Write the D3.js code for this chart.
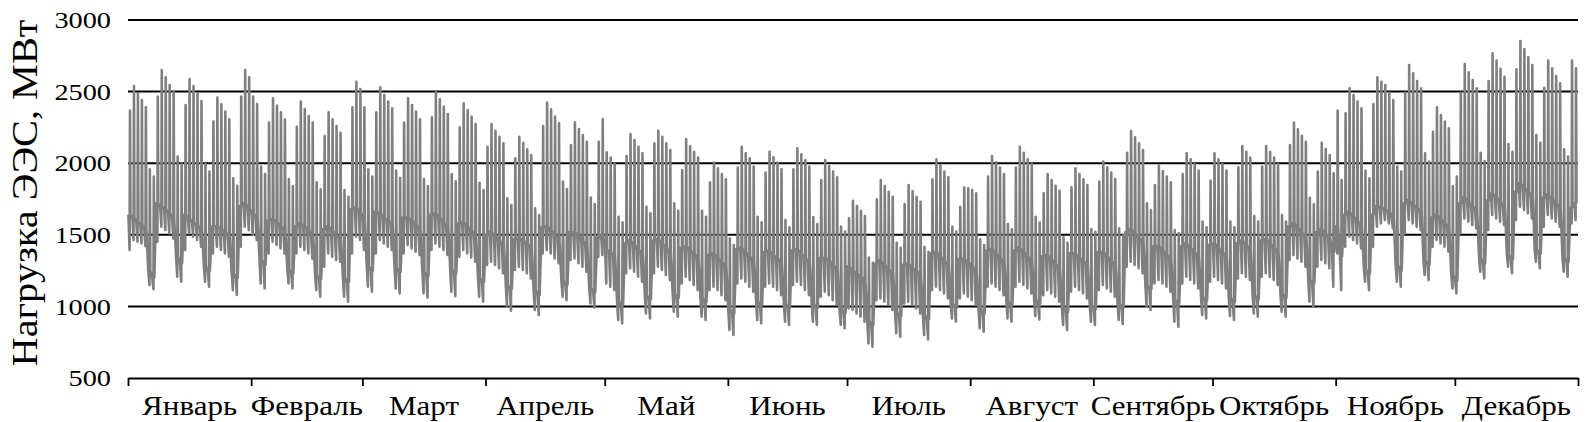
<!DOCTYPE html>
<html>
<head>
<meta charset="utf-8">
<script src="https://cdn.jsdelivr.net/npm/d3@7"></script>
<style>
  body { margin: 0; background: #fff; }
  text { font-family: "Liberation Serif", "Times New Roman", serif; fill: #000; }
</style>
</head>
<body>
<div id="chart"></div>
<script>
const months = ["Январь", "Февраль", "Март", "Апрель", "Май", "Июнь",
                "Июль", "Август", "Сентябрь", "Октябрь", "Ноябрь", "Декабрь"];
const monthDays = [31, 28, 31, 30, 31, 30, 31, 31, 30, 31, 30, 31];
const yTicks = [500, 1000, 1500, 2000, 2500, 3000];

// daily peak load, MW (week by week)
const dayMax = [
  2367, 2539, 2488, 2441, 2390, 1957, 1906,
  2465, 2651, 2600, 2546, 2500, 2046, 1994,
  2406, 2588, 2539, 2488, 2434, 1994, 1941,
  2290, 2458, 2411, 2360, 2306, 1894, 1843,
  2465, 2651, 2600, 2465, 2413, 1976, 1924,
  2283, 2453, 2402, 2355, 2306, 1890, 1841,
  2255, 2430, 2378, 2330, 2283, 1866, 1817,
  2190, 2355, 2306, 2260, 2213, 1813, 1766,
  2390, 2569, 2518, 2390, 1957, 1906,
  2355, 2530, 2476, 2430, 2383, 1948, 1897,
  2283, 2453, 2406, 2360, 2306, 1890, 1841,
  2320, 2495, 2446, 2395, 2343, 1924, 1873,
  2250, 2418, 2371, 2325, 2274, 1864, 1813,
  2115, 2274, 2227, 2185, 2139, 1755, 1708,
  2034, 2185, 2143, 2097, 2057, 1685, 1638,
  2260, 2423, 2376, 2325, 2278, 1871, 1820,
  2127, 2285, 2239, 2197, 2150, 1761, 1715,
  2150, 2309, 2076, 2039, 1994, 1626, 1587,
  2050, 2204, 2162, 2115, 2069, 1696, 1650,
  2139, 2227, 2185, 2139, 2092, 1720, 1668,
  1952, 2169, 2120, 2080, 2039, 1668, 1626,
  1866, 2004, 1964, 1924, 1887, 1475, 1429,
  1969, 2115, 2069, 2034, 1976, 1626, 1587,
  1934, 2080, 2041, 2004, 1957, 1603, 1552,
  1957, 2104, 2062, 2022, 1976, 1622, 1575,
  1883, 2022, 1980, 1941, 1901, 1557, 1522,
  1615, 1738, 1701, 1668, 1631, 1342, 1305,
  1748, 1883, 1841, 1801, 1766, 1445, 1410,
  1715, 1848, 1806, 1766, 1731, 1417, 1382,
  1887, 2027, 1983, 1941, 1901, 1557, 1522,
  1696, 1830, 1824, 1813, 1789, 1468, 1429,
  1906, 2050, 2006, 1969, 1924, 1575, 1538,
  1969, 2115, 2073, 2027, 1994, 1626, 1585,
  1789, 1924, 1883, 1843, 1808, 1482, 1445,
  1831, 1964, 1924, 1887, 1848, 1540, 1520,
  1871, 2011, 1971, 1934, 1890, 1545, 1498,
  2073, 2225, 2181, 2139, 2092, 1720, 1673,
  1848, 1983, 1945, 1906, 1866, 1533, 1510,
  1924, 2069, 2027, 1994, 1948, 1592, 1552,
  1878, 2069, 2027, 1994, 1948, 1592, 1552,
  1971, 2120, 2080, 2039, 1631, 1592,
  1976, 2120, 2080, 2039, 1994, 1638, 1592,
  2127, 2283, 2236, 2192, 2150, 1759, 1713,
  1941, 2143, 2099, 2057, 1929, 2367, 1883,
  2348, 2523, 2476, 2430, 2383, 1948, 1894,
  2413, 2600, 2569, 2546, 2492, 2441, 1976, 1941,
  2492, 2686, 2628, 2574, 2523, 2069, 2011,
  2220, 2390, 2337, 2290, 2243, 1841, 1906,
  2492, 2693, 2634, 2581, 2523, 2073, 2015,
  2574, 2767, 2716, 2660, 2604, 2134, 2080,
  2655, 2853, 2797, 2739, 2686, 2197, 2143,
  2527, 2716, 2662, 2609, 2558, 2097, 2046,
  2716, 2662
];

// daily minimum load, MW
const dayMin = [
  1394, 1464, 1452, 1440, 1420, 1150, 1120,
  1452, 1557, 1533, 1510, 1475, 1207, 1173,
  1394, 1510, 1487, 1464, 1417, 1173, 1138,
  1370, 1417, 1394, 1370, 1347, 1114, 1080,
  1417, 1557, 1533, 1498, 1464, 1161, 1126,
  1370, 1452, 1429, 1405, 1370, 1161, 1126,
  1370, 1417, 1394, 1370, 1335, 1114, 1068,
  1277, 1370, 1347, 1324, 1312, 1068, 1033,
  1370, 1487, 1464, 1394, 1138, 1103,
  1370, 1464, 1440, 1417, 1394, 1126, 1091,
  1370, 1429, 1405, 1382, 1359, 1091, 1063,
  1394, 1440, 1417, 1394, 1359, 1103, 1072,
  1347, 1394, 1370, 1342, 1312, 1068, 1033,
  1289, 1312, 1289, 1266, 1231, 998, 970,
  1254, 1277, 1254, 1231, 1196, 975, 940,
  1370, 1394, 1370, 1335, 1301, 1068, 1044,
  1324, 1335, 1301, 1277, 1242, 1021, 993,
  1347, 1359, 1161, 1138, 1114, 905, 882,
  1231, 1266, 1242, 1207, 1173, 951, 916,
  1231, 1277, 1254, 1219, 1184, 963, 928,
  1161, 1207, 1184, 1149, 1114, 928, 905,
  1114, 1138, 1114, 1079, 1044, 835, 800,
  1161, 1196, 1173, 1138, 1103, 905, 882,
  1138, 1161, 1138, 1114, 1079, 893, 870,
  1149, 1173, 1149, 1114, 1079, 893, 870,
  1068, 1103, 1079, 1044, 1010, 870, 847,
  986, 975, 951, 928, 893, 742, 719,
  1044, 1056, 1033, 1010, 975, 812, 788,
  1021, 1033, 1010, 986, 951, 800, 770,
  1114, 1138, 1114, 1091, 1056, 916, 893,
  1056, 1091, 1068, 1044, 1010, 847, 823,
  1138, 1161, 1138, 1114, 1079, 916, 893,
  1138, 1173, 1149, 1126, 1091, 933, 909,
  1079, 1114, 1091, 1068, 1033, 870, 835,
  1103, 1138, 1114, 1091, 1056, 893, 870,
  1114, 1149, 1126, 1103, 1068, 905, 877,
  1277, 1312, 1289, 1266, 1231, 998, 975,
  1161, 1184, 1161, 1138, 1103, 893, 858,
  1161, 1207, 1184, 1161, 1126, 940, 916,
  1173, 1207, 1184, 1161, 1126, 933, 905,
  1196, 1231, 1207, 1184, 951, 928,
  1207, 1231, 1207, 1184, 1149, 963, 928,
  1324, 1359, 1335, 1312, 1277, 1033, 998,
  1277, 1324, 1301, 1266, 1138, 1370, 1114,
  1417, 1487, 1464, 1440, 1405, 1173, 1114,
  1417, 1557, 1580, 1603, 1580, 1545, 1173, 1138,
  1510, 1603, 1580, 1557, 1533, 1219, 1184,
  1417, 1464, 1440, 1417, 1382, 1126, 1091,
  1510, 1615, 1592, 1568, 1545, 1242, 1196,
  1533, 1638, 1615, 1592, 1568, 1277, 1231,
  1603, 1696, 1673, 1650, 1615, 1312, 1266,
  1557, 1638, 1615, 1592, 1557, 1242, 1207,
  1580, 1603
];

// night-time level between the peaks (the dense band), MW
const dayMid = [
  1640, 1620, 1590, 1570, 1540, 1250, 1200,
  1720, 1700, 1680, 1650, 1620, 1350, 1300,
  1640, 1610, 1590, 1570, 1540, 1280, 1250,
  1560, 1560, 1540, 1520, 1500, 1230, 1200,
  1700, 1720, 1680, 1650, 1620, 1330, 1290,
  1600, 1610, 1590, 1560, 1530, 1260, 1230,
  1560, 1580, 1560, 1540, 1500, 1220, 1190,
  1540, 1560, 1530, 1500, 1480, 1200, 1170,
  1680, 1690, 1660, 1600, 1280, 1250,
  1660, 1650, 1620, 1600, 1570, 1270, 1240,
  1620, 1620, 1600, 1570, 1540, 1240, 1210,
  1640, 1650, 1620, 1590, 1560, 1260, 1230,
  1580, 1590, 1560, 1530, 1500, 1200, 1170,
  1500, 1520, 1490, 1460, 1430, 1150, 1120,
  1470, 1480, 1460, 1440, 1400, 1110, 1080,
  1550, 1560, 1530, 1500, 1460, 1180, 1150,
  1520, 1520, 1490, 1460, 1430, 1130, 1100,
  1480, 1500, 1400, 1380, 1360, 1040, 1010,
  1440, 1460, 1430, 1400, 1370, 1080, 1050,
  1460, 1470, 1440, 1410, 1380, 1090, 1060,
  1410, 1420, 1390, 1370, 1340, 1060, 1030,
  1360, 1370, 1340, 1310, 1280, 980, 950,
  1400, 1410, 1380, 1350, 1320, 1040, 1010,
  1380, 1390, 1360, 1340, 1310, 1020, 990,
  1390, 1400, 1370, 1340, 1310, 1020, 990,
  1340, 1340, 1320, 1290, 1260, 980, 950,
  1280, 1250, 1230, 1210, 1180, 900, 870,
  1300, 1320, 1290, 1260, 1240, 960, 930,
  1290, 1300, 1270, 1250, 1220, 940, 910,
  1370, 1380, 1350, 1320, 1290, 1020, 990,
  1330, 1330, 1310, 1280, 1250, 980, 950,
  1390, 1400, 1370, 1340, 1310, 1040, 1010,
  1390, 1410, 1380, 1350, 1320, 1050, 1020,
  1350, 1360, 1330, 1300, 1270, 990, 960,
  1370, 1370, 1340, 1320, 1290, 1010, 980,
  1380, 1380, 1350, 1320, 1290, 1020, 990,
  1520, 1540, 1510, 1480, 1450, 1150, 1120,
  1420, 1420, 1390, 1360, 1330, 1050, 1020,
  1420, 1440, 1410, 1380, 1350, 1070, 1040,
  1430, 1440, 1410, 1380, 1350, 1060, 1030,
  1440, 1460, 1430, 1400, 1080, 1050,
  1460, 1470, 1440, 1410, 1380, 1090, 1060,
  1560, 1580, 1550, 1520, 1490, 1190, 1160,
  1520, 1540, 1510, 1480, 1380, 1560, 1350,
  1640, 1660, 1630, 1600, 1560, 1260, 1230,
  1640, 1700, 1690, 1680, 1660, 1620, 1290, 1250,
  1720, 1740, 1710, 1690, 1660, 1320, 1290,
  1620, 1640, 1610, 1580, 1550, 1220, 1180,
  1720, 1760, 1730, 1700, 1670, 1340, 1300,
  1740, 1790, 1760, 1730, 1700, 1360, 1330,
  1800, 1860, 1830, 1800, 1770, 1400, 1370,
  1760, 1780, 1750, 1720, 1690, 1340, 1310,
  1690, 1720
];

let WIDTH = 1594,
    HEIGHT = 422;

let svg = d3.select("#chart")
    .append("svg")
    .attr("width", WIDTH)
    .attr("height", HEIGHT)
    .style("display", "block");

let x = d3.scaleLinear().domain([0, 365]).range([128, 1578]);
let y = d3.scaleLinear().domain([500, 3000]).range([378, 20]);

// the source text is a bit wider than Liberation Serif
const stretch = 1.15;

// horizontal grid lines
svg.selectAll(".grid")
    .data(yTicks.filter(d => d > 500))
    .enter()
    .append("line")
    .attr("x1", x(0))
    .attr("x2", x(365))
    .attr("y1", d => y(d))
    .attr("y2", d => y(d))
    .style("stroke", "#000")
    .style("stroke-width", 2);

// y tick labels
svg.selectAll(".ylab")
    .data(yTicks)
    .enter()
    .append("text")
    .attr("transform", d => `translate(111,${y(d)}) scale(1.18,1)`)
    .attr("dy", "0.34em")
    .attr("text-anchor", "end")
    .style("font-size", "24px")
    .text(d => d);

// y title
svg.append("text")
    .attr("transform", "translate(37,193) rotate(-90) scale(1.12,1)")
    .attr("text-anchor", "middle")
    .style("font-size", "36px")
    .text("Нагрузка ЭЭС, МВт");

// x axis with month boundaries
let bounds = Array.from(d3.cumsum(monthDays));
bounds.unshift(0);
let xAxis = d3.axisBottom(x)
    .tickValues(bounds)
    .tickFormat("")
    .tickSizeInner(8)
    .tickSizeOuter(0);

let gx = svg.append("g")
    .attr("transform", `translate(0,${y(500)})`)
    .call(xAxis);
gx.selectAll("path, line").style("stroke", "#000").style("stroke-width", 1.8);

svg.selectAll(".mlab")
    .data(months)
    .enter()
    .append("text")
    .attr("transform", (d, i) => `translate(${x((bounds[i] + bounds[i + 1]) / 2)},415) scale(${stretch},1)`)
    .attr("text-anchor", "middle")
    .style("font-size", "27px")
    .text(d => d);

// load curve: each day goes night level -> morning min -> peak -> back
let pts = [];
dayMax.forEach((mx, d) => {
    pts.push([d + 0.1, dayMid[d]]);
    pts.push([d + 0.4, dayMin[d]]);
    pts.push([d + 0.5, mx]);
    pts.push([d + 0.62, dayMid[d]]);
});

let line = d3.line()
    .x(p => x(p[0]))
    .y(p => y(p[1]));

svg.append("path")
    .datum(pts)
    .attr("d", line)
    .style("fill", "none")
    .style("stroke", "#7f7f7f")
    .style("stroke-width", 2.6)
    .style("stroke-linejoin", "round");
</script>
</body>
</html>
